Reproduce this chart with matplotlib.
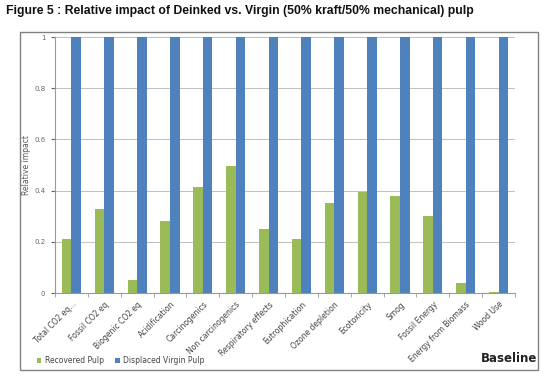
import numpy as np
import matplotlib.pyplot as plt
from matplotlib.patches import Rectangle

categories = ['Total CO2 eq...', 'Fossil CO2 eq', 'Biogenic CO2 eq', 'Acidification',
              'Carcinogenics', 'Non carcinogenics', 'Respiratory effects', 'Eutrophication',
              'Ozone depletion', 'Ecotoxicity', 'Smog', 'Fossil Energy',
              'Energy from Biomass', 'Wood Use']
recovered = [0.21, 0.33, 0.05, 0.28, 0.415, 0.495, 0.25, 0.21, 0.35, 0.395, 0.38, 0.30, 0.04, 0.003]
virgin = [1, 1, 1, 1, 1, 1, 1, 1, 1, 1, 1, 1, 1, 1]

green = '#9BBB59'
blue = '#4F81BD'

fig = plt.figure(figsize=(5.5, 3.8), dpi=100)
fig.patch.set_facecolor('white')

# title
fig.text(0.01, 0.972, 'Figure 5 : Relative impact of Deinked vs. Virgin (50% kraft/50% mechanical) pulp',
         fontsize=8.8, fontweight='bold', color='#111111', ha='left', va='center',
         family='Liberation Sans')

# chart border
fig.add_artist(Rectangle((20 / 550, 1 - 370 / 380), 518 / 550, 338 / 380,
                         transform=fig.transFigure, fill=False, edgecolor='#808080', lw=1.0))

ax = fig.add_axes([55 / 550, 1 - 293 / 380, 460 / 550, 256 / 380])
x = np.arange(len(categories))
w = 0.29
ax.bar(x - w / 2, recovered, w, color=green, label='Recovered Pulp', zorder=3)
ax.bar(x + w / 2, virgin, w, color=blue, label='Displaced Virgin Pulp', zorder=3)

ax.set_xlim(-0.5, len(categories) - 0.5)
ax.set_ylim(0, 1)
ax.set_yticks([0, 0.2, 0.4, 0.6, 0.8, 1])
ax.set_yticklabels(['0', '0.2', '0.4', '0.6', '0.8', '1'])
ax.grid(axis='y', color='#c0c0c0', lw=0.7, zorder=0)
ax.set_xticks(x)
ax.set_xticklabels(categories, rotation=45, ha='right', rotation_mode='anchor')
ax.set_xticks(np.arange(len(categories) + 1) - 0.5, minor=True)
ax.tick_params(axis='x', which='major', length=0, labelsize=5.5, colors='#444444', pad=5)
ax.tick_params(axis='x', which='minor', length=3, color='#999999')
ax.tick_params(axis='y', length=3, labelsize=5, colors='#666666', pad=4)
for s in ['top', 'right']:
    ax.spines[s].set_visible(False)
ax.spines['left'].set_color('#999999')
ax.spines['bottom'].set_color('#999999')
ax.set_ylabel('Relative impact', fontsize=5.5, color='#555555', labelpad=2)

fig.legend(loc='lower left', bbox_to_anchor=(30 / 550, 1 - 372 / 380), ncol=2, frameon=False,
           fontsize=5.5, handlelength=0.6, handleheight=0.6, columnspacing=1.5, handletextpad=0.4,
           labelcolor='#444444')

fig.text(537 / 550, 1 - 358 / 380, 'Baseline', fontsize=8.5, fontweight='bold',
         color='#222222', ha='right', va='center')

fig.savefig('out.png', dpi=100)
